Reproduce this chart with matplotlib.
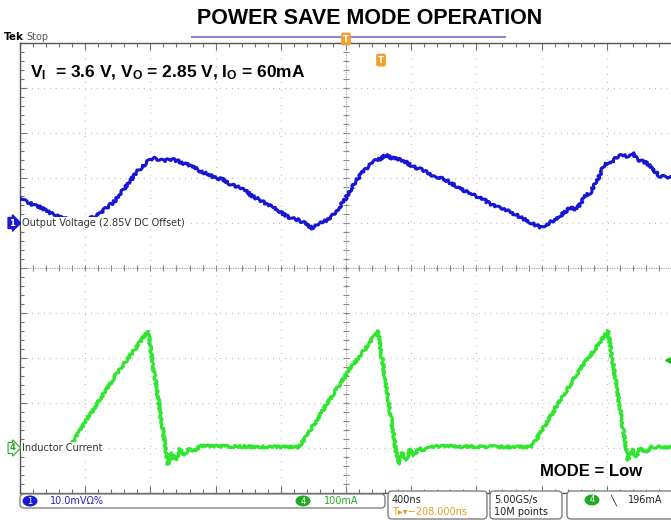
import numpy as np
import matplotlib.pyplot as plt
from matplotlib.patches import FancyBboxPatch, Ellipse
from matplotlib.lines import Line2D
from matplotlib.transforms import IdentityTransform

plt.rcParams['mathtext.fontset'] = 'custom'
plt.rcParams['mathtext.rm'] = 'Liberation Sans'
plt.rcParams['mathtext.bf'] = 'Liberation Sans:bold'

# channel 1 : output voltage, AC part around 2.85 V  (ns, mV)
t_vout = [0, 31, 61, 92, 123, 153, 184, 215, 258, 307, 356, 405, 442, 491, 540, 583,
          626, 675, 724, 767, 810, 847, 877, 920, 969, 1012, 1055, 1104, 1153, 1196,
          1239, 1288, 1337, 1380, 1423, 1472, 1521, 1564, 1607, 1656, 1706, 1748, 1791,
          1828, 1871, 1914, 1951, 1988, 2025, 2061, 2098, 2135, 2172, 2209, 2245, 2282,
          2319, 2362, 2405, 2454, 2503, 2552, 2601, 2650, 2699, 2748, 2798, 2847, 2896,
          2945, 2994, 3043, 3092, 3141, 3190, 3227, 3264, 3313, 3374, 3417, 3466, 3497,
          3540, 3589, 3620, 3669, 3730, 3755, 3785, 3847, 3877, 3926, 3988]
v_out = [5.6, 4.9, 4.4, 3.8, 3.6, 2.9, 2.2, 1.8, 1.1, 0.7, 0.4, 0.7, 1.3, 2.2, 3.6, 4.9,
         7.1, 9.3, 11.6, 13.1, 14.4, 14.2, 13.8, 14.2, 13.8, 13.1, 12.7, 11.6, 10.9, 10.0,
         9.8, 8.7, 8.0, 7.3, 6.0, 5.1, 4.0, 3.3, 2.2, 1.1, 0.7, 0.0, -1.1,
         -0.4, 0.4, 1.6, 3.1, 4.9, 7.1, 9.3, 11.1, 12.4, 13.8, 14.2, 15.1, 14.4,
         14.2, 13.6, 12.7, 12.0, 11.1, 10.2, 9.8, 8.7, 7.8, 6.7, 6.0, 5.1, 4.0,
         3.3, 2.7, 1.8, 0.9, 0.0, -0.9, -0.4, 0.4, 1.6, 3.3, 3.1, 6.0, 6.7,
         9.3, 13.3, 13.1, 14.9, 14.9, 15.6, 14.2, 13.3, 12.0, 10.4, 10.0]

# channel 4 : inductor current (ns, mA)
t_il = [0, 294, 319, 472, 614, 706, 785, 908, 933, 957, 982, 1006, 1037, 1067, 1104,
        1706, 1730, 1883, 2025, 2117, 2196, 2319, 2344, 2368, 2393, 2417, 2448, 2479, 2515,
        3129, 3153, 3301, 3436, 3528, 3607, 3730, 3755, 3779, 3804, 3834, 3877, 4000]
i_l = [2, 2, 11, 98, 176, 220, 260, -36, -11, -27, -2, -16, 0, -7, 4,
       2, 11, 98, 176, 220, 260, -36, -11, -27, -2, -16, 0, -7, 4,
       2, 11, 98, 176, 220, 260, -27, -2, -20, 0, -9, 2, 2]

time_per_div = 400    # ns/div
mv_per_div = 10       # ch1 scale
ma_per_div = 100      # ch4 scale
ch1_pos = 1.0         # divisions above centre
ch4_pos = -4.0
trig_level = 196      # mA
trig_time = 2000      # ns from left edge

W, H = 671, 520
fig = plt.figure(figsize=(W / 100, H / 100), dpi=100)
ax = fig.add_axes([20 / W, 27 / H, 652 / W, 450 / H])
ax.set_xlim(0, 10 * time_per_div)
ax.set_ylim(-5, 5)

# graticule
grid_c = '#b4b4b4'
for k in range(1, 10):
    if k != 5:
        ax.axvline(k * time_per_div, color=grid_c, lw=0.9, ls=(0, (0.7, 5.5)))
for k in range(-4, 5):
    if k != 0:
        ax.axhline(k, color=grid_c, lw=0.9, ls=(0, (0.7, 4.0)))
ax.axhline(0, color='#a0a0a0', lw=0.8, ls=(0, (1, 1.2)))
ax.axvline(trig_time, color='#a0a0a0', lw=0.8, ls=(0, (1, 1.2)))
minor_x = np.arange(0, 4001, time_per_div / 5)
minor_y = np.arange(-5, 5.01, 0.2)
ax.plot(minor_x, np.zeros_like(minor_x), '|', ms=4, color='#8a8a8a', mew=0.8)
ax.plot(np.full_like(minor_y, trig_time), minor_y, '_', ms=4, color='#8a8a8a', mew=0.8)

ax.set_xticks(np.arange(0, 4001, time_per_div))
ax.set_xticks(minor_x, minor=True)
ax.set_yticks(np.arange(-5, 6, 1))
ax.set_yticks(minor_y, minor=True)
ax.tick_params(which='both', direction='in', top=True, bottom=True, left=True, right=False,
               labelbottom=False, labelleft=False, color='#707070', width=0.8)
ax.tick_params(which='major', length=5)
ax.tick_params(which='minor', length=3)
for s in ['top', 'left', 'bottom']:
    ax.spines[s].set_color('#555555')
    ax.spines[s].set_linewidth(1.0)
ax.spines['right'].set_visible(False)

# traces, drawn with a little jitter like the scope's noisy acquisition
vline, = ax.plot(t_vout, ch1_pos + np.array(v_out) / mv_per_div, color='#1616d4', lw=2.2,
                 solid_joinstyle='round', zorder=3)
vline.set_sketch_params(scale=1.3, length=6, randomness=4)
iline, = ax.plot(t_il, ch4_pos + np.array(i_l) / ma_per_div, color='#2ee62e', lw=2.2,
                 solid_joinstyle='round', zorder=3)
iline.set_sketch_params(scale=1.2, length=4, randomness=4)

# channel labels
ax.annotate('Output Voltage (2.85V DC Offset)', xy=(0, ch1_pos), xytext=(2, 0),
            textcoords='offset pixels', ha='left', va='center', fontsize=7, color='#333333',
            bbox=dict(fc='white', ec='none', pad=0.6), zorder=4)
ax.annotate('Inductor Current', xy=(0, ch4_pos), xytext=(2, 0),
            textcoords='offset pixels', ha='left', va='center', fontsize=7, color='#333333',
            bbox=dict(fc='white', ec='none', pad=0.6), zorder=4)
ax.annotate('1', xy=(0, ch1_pos), xytext=(-8, 0), textcoords='offset pixels',
            ha='center', va='center', fontsize=6, color='white', fontweight='bold',
            bbox=dict(boxstyle='rarrow,pad=0.12', fc='#1a1ad0', ec='#1a1ad0'),
            annotation_clip=False)
ax.annotate('4', xy=(0, ch4_pos), xytext=(-8, 0), textcoords='offset pixels',
            ha='center', va='center', fontsize=6, color='#22aa22', fontweight='bold',
            bbox=dict(boxstyle='rarrow,pad=0.12', fc='white', ec='#22aa22', lw=0.8),
            annotation_clip=False)
ax.plot(3975, ch4_pos + trig_level / ma_per_div, marker='<', color='#1ec01e', ms=5,
        clip_on=False, zorder=4)
ax.annotate('T', xy=(trig_time + 215, 4.62), ha='center', va='center', fontsize=6,
            color='white', fontweight='bold',
            bbox=dict(boxstyle='round,pad=0.15', fc='#f0a030', ec='#f0a030'))


def ftext(x, y, s, **kw):
    fig.text(x / W, 1 - y / H, s, **kw)


ftext(370, 19, 'POWER SAVE MODE OPERATION', ha='center', va='center', fontsize=15.5,
      fontweight='bold', family='Liberation Sans')
ftext(30, 73, r'$\mathbf{V_I}$  = 3.6 V, $\mathbf{V_O}$ = 2.85 V, $\mathbf{I_O}$ = 60mA',
      ha='left', va='center', fontsize=12.5, fontweight='bold', family='Liberation Sans')
ftext(540, 472, 'MODE = Low', ha='left', va='center', fontsize=12, fontweight='bold',
      family='Liberation Sans')
ftext(4, 37, 'Tek', ha='left', va='center', fontsize=7.5, fontweight='bold')
ftext(26, 37, 'Stop', ha='left', va='center', fontsize=7, color='#555555')

# record view bar and trigger marker on top
fig.add_artist(Line2D([192, 505], [H - 37, H - 37], color='#8888d8', lw=1.5,
                      transform=IdentityTransform()))
ftext(346, 39, 'T', ha='center', va='center', fontsize=6, color='white', fontweight='bold',
      bbox=dict(boxstyle='round,pad=0.15', fc='#f0a030', ec='#f0a030'))


# status bar
def rbox(x0, y0, x1, y1):
    fig.add_artist(FancyBboxPatch((x0, H - y1), x1 - x0, y1 - y0,
                                  boxstyle='round,pad=0,rounding_size=4', fc='white',
                                  ec='#808080', lw=1, transform=IdentityTransform()))


rbox(20, 494, 385, 508)
rbox(388, 491, 487, 519)
rbox(490, 491, 562, 519)
rbox(567, 491, 680, 519)

fig.add_artist(Ellipse((30, H - 501), 15, 11, fc='#1a1ad0', ec='none',
                       transform=IdentityTransform()))
ftext(30, 501, '1', ha='center', va='center', fontsize=6, color='white')
ftext(50, 501, '10.0mV\u03a9%', ha='left', va='center', fontsize=7, color='#2222cc')
fig.add_artist(Ellipse((303, H - 501), 15, 11, fc='#22aa22', ec='none',
                       transform=IdentityTransform()))
ftext(303, 501, '4', ha='center', va='center', fontsize=6, color='white')
ftext(324, 501, '100mA', ha='left', va='center', fontsize=7, color='#22aa22')
ftext(392, 500, '400ns', ha='left', va='center', fontsize=7, color='#222222')
ftext(392, 512, 'T\u25b8\u25be\u2212208.000ns', ha='left', va='center', fontsize=7,
      color='#e89a20')
ftext(494, 500, '5.00GS/s', ha='left', va='center', fontsize=7, color='#222222')
ftext(494, 512, '10M points', ha='left', va='center', fontsize=7, color='#222222')
fig.add_artist(Ellipse((592, H - 500), 15, 11, fc='#22aa22', ec='none',
                       transform=IdentityTransform()))
ftext(592, 500, '4', ha='center', va='center', fontsize=6, color='white')
ftext(610, 500, '\u2572', ha='left', va='center', fontsize=7, color='#222222')
ftext(628, 500, '196mA', ha='left', va='center', fontsize=7, color='#222222')

fig.savefig('out.png', dpi=100)
